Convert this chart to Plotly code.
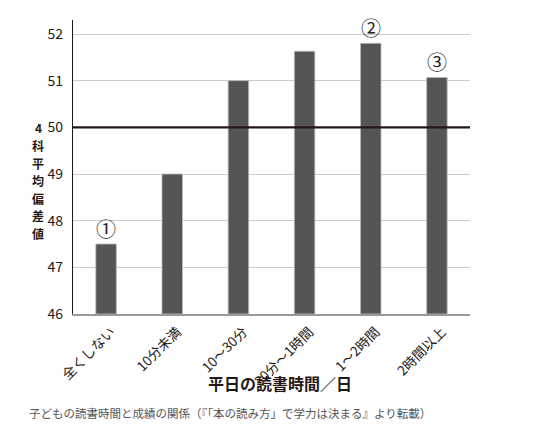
import plotly.graph_objects as go

categories = ["全くしない", "10分未満", "10～30分", "30分～1時間", "1～2時間", "2時間以上"]
values = [47.5, 49.0, 51.0, 51.63, 51.8, 51.07]
marks = {0: "①", 4: "②", 5: "③"}
y_ticks = [46, 47, 48, 49, 50, 51, 52]
y_title = "4科平均偏差値"
x_title = "平日の読書時間／日"
caption = "子どもの読書時間と成績の関係（『「本の読み方」で学力は決まる』より転載）"

FONT = "Noto Sans CJK JP"
NARROW = "Liberation Sans Narrow, Noto Sans CJK JP"
BASE = 46
L, T, PW, PH = 73, 20, 397, 294  # plot area in px


def px_x(x):
    return (x - L) / PW


def px_y(y):
    return (T + PH - y) / PH


fig = go.Figure()
fig.add_trace(go.Bar(
    x=categories, y=[v - BASE for v in values], base=BASE, width=0.31,
    marker=dict(color="#555555", line=dict(color="#bbbbbb", width=0.8)),
))

for i, t in marks.items():
    fig.add_annotation(x=categories[i], y=values[i], xref="x", yref="y",
                       text=t, showarrow=False, yanchor="bottom", yshift=0,
                       borderpad=0,
                       font=dict(family=FONT, size=20, color="#222"))

for k, ch in enumerate(y_title):
    fig.add_annotation(x=px_x(38), y=px_y(128 + 17.5 * k), xref="paper", yref="paper",
                       text=ch, showarrow=False, xanchor="center", yanchor="middle",
                       borderpad=0,
                       font=dict(family=FONT, size=12, color="#231815", weight="bold"))

fig.add_annotation(x=px_x(280), y=px_y(383), xref="paper", yref="paper",
                   text=x_title, showarrow=False, xanchor="center", yanchor="middle",
                   font=dict(family=FONT, size=16, color="#231815", weight="bold"))
fig.add_annotation(x=px_x(27), y=px_y(413), xref="paper", yref="paper",
                   text=caption, showarrow=False, xanchor="left", yanchor="middle",
                   font=dict(family=FONT, size=11.5, color="#555555"))

fig.add_shape(type="line", xref="paper", yref="y", x0=0, x1=1, y0=50, y1=50,
              line=dict(color="#231815", width=2.2))

fig.update_layout(
    width=546, height=436,
    margin=dict(l=L, r=546 - L - PW, t=T, b=436 - T - PH),
    plot_bgcolor="white", paper_bgcolor="white",
    showlegend=False,
    font=dict(family=FONT, color="#231815"),
)
fig.update_yaxes(range=[46, 52.3], tickvals=y_ticks, showgrid=True,
                 gridcolor="#cccccc", gridwidth=1.2, zeroline=False,
                 showline=True, linecolor="#231815", linewidth=1.2,
                 ticks="", ticklabelstandoff=6,
                 tickfont=dict(family=NARROW, size=14, color="#231815"))
fig.update_xaxes(showline=True, linecolor="#999999", linewidth=1.5,
                 tickangle=-45, ticks="", ticklabelshift=5, ticklabelstandoff=3,
                 tickfont=dict(family=NARROW, size=13.5, color="#231815"))

fig.write_html("out.html")
